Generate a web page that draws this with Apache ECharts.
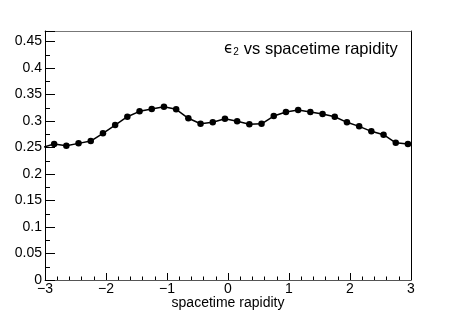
<!DOCTYPE html>
<html>
<head>
<meta charset="utf-8">
<script src="https://cdn.jsdelivr.net/npm/echarts@6/dist/echarts.min.js"></script>
<style>
html,body{margin:0;padding:0;background:#fff;}
#chart{width:457px;height:311px;}
</style>
</head>
<body>
<div id="chart"></div>
<script>
// Data
var rapidity = [-3.05, -2.85, -2.65, -2.45, -2.25, -2.05, -1.85, -1.65, -1.45, -1.25, -1.05,
                -0.85, -0.65, -0.45, -0.25, -0.05, 0.15, 0.35, 0.55, 0.75, 0.95,
                1.15, 1.35, 1.55, 1.75, 1.95, 2.15, 2.35, 2.55, 2.75, 2.95];
var eps2 = [0.250, 0.2566, 0.2534, 0.2579, 0.2622, 0.2768, 0.2925, 0.3082, 0.3184, 0.3227, 0.3271,
            0.3222, 0.3052, 0.2949, 0.2976, 0.3045, 0.2995, 0.2938, 0.2949, 0.3095, 0.3171,
            0.3209, 0.3171, 0.3133, 0.3082, 0.2976, 0.2900, 0.2806, 0.2742, 0.2590, 0.2566];
var xTicks = [-3, -2, -1, 0, 1, 2, 3];
var yTicks = [0, 0.05, 0.1, 0.15, 0.2, 0.25, 0.3, 0.35, 0.4, 0.45];
var titleText = 'vs spacetime rapidity';
var xTitle = 'spacetime rapidity';

var points = rapidity.map(function (x, i) { return [x, eps2[i]]; });
var FONT = '"Liberation Sans", Arial, Helvetica, sans-serif';

var chart = echarts.init(document.getElementById('chart'), null, {renderer: 'canvas'});
chart.setOption({
  animation: false,
  backgroundColor: '#fff',
  title: {
    text: '{e|\u03F5}{s|2} {t|' + titleText + '}',
    left: 224,
    top: 40,
    padding: 0,
    textStyle: {
      fontWeight: 'normal',
      rich: {
        e: {fontFamily: '"DejaVu Sans", sans-serif', fontSize: 15, fontWeight: 'normal', color: '#000'},
        s: {fontFamily: FONT, fontSize: 10, fontWeight: 'normal', color: '#000', padding: [6, 0, 0, 0]},
        t: {fontFamily: FONT, fontSize: 16.5, fontWeight: 'normal', color: '#000'}
      }
    }
  },
  grid: {left: 45, right: 46, top: 31, bottom: 31, show: false, outerBoundsMode: 'none', containLabel: false},
  xAxis: [{
    type: 'value',
    min: -3, max: 3, interval: 1,
    position: 'bottom',
    name: xTitle,
    nameLocation: 'middle',
    nameGap: 16,
    nameMoveOverlap: false,
    nameTextStyle: {fontFamily: FONT, fontSize: 14, color: '#000'},
    axisLine: {show: true, onZero: false, lineStyle: {color: '#555', width: 1}},
    axisTick: {show: true, inside: true, length: 7, lineStyle: {color: '#000'}},
    minorTick: {show: true, splitNumber: 5, length: 3.5, lineStyle: {color: '#000'}},
    splitLine: {show: false},
    axisLabel: {
      margin: 2, fontFamily: FONT, fontSize: 14, color: '#000',
      formatter: function (v) { return (v < 0 ? '\u2212' + Math.abs(v) : String(v)); }
    }
  }, {
    type: 'value', min: -3, max: 3, position: 'top',
    axisLine: {show: true, onZero: false, lineStyle: {color: '#777', width: 1}},
    axisTick: {show: false}, axisLabel: {show: false}, splitLine: {show: false}
  }],
  yAxis: [{
    type: 'value',
    min: 0, max: 0.47, interval: 0.05,
    position: 'left',
    axisLine: {show: true, onZero: false, lineStyle: {color: '#000', width: 1}},
    axisTick: {show: true, inside: true, length: 10, lineStyle: {color: '#000'}},
    minorTick: {show: true, splitNumber: 2, length: 5, lineStyle: {color: '#000'}},
    splitLine: {show: false},
    axisLabel: {
      margin: 3, fontFamily: FONT, fontSize: 14, color: '#000',
      formatter: function (v) {
        var k = Math.round(v / 0.05);
        if (Math.abs(k * 0.05 - v) > 1e-6) return '';
        return String(+(v.toFixed(2)));
      }
    }
  }, {
    type: 'value', min: 0, max: 0.47, position: 'right',
    axisLine: {show: true, onZero: false, lineStyle: {color: '#000', width: 1}},
    axisTick: {show: false}, axisLabel: {show: false}, splitLine: {show: false}
  }],
  series: [{
    type: 'line',
    data: points,
    xAxisIndex: 0, yAxisIndex: 0,
    clip: true,
    symbol: 'circle',
    symbolSize: 6.5,
    showAllSymbol: true,
    itemStyle: {color: '#000'},
    lineStyle: {color: '#000', width: 1.5}
  }]
});
</script>
</body>
</html>
